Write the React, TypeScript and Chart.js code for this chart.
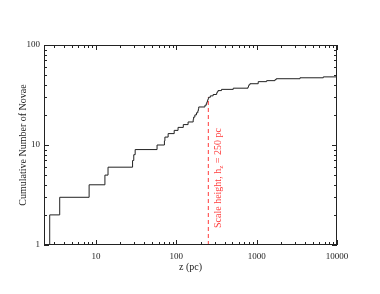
import React, { useEffect, useRef } from "react";
import { Chart, registerables } from "chart.js";

Chart.register(...registerables);

// Cumulative step data: distance z (pc) and cumulative count of novae
const zValues: number[] = [
  2.25, 2.65, 3.53, 8.2, 12.9, 14.1, 28.5, 29.5, 30.7, 57.5, 71, 72, 79, 94, 105, 122, 140, 162, 164, 170,
  178, 185, 188, 190, 227, 236, 240, 244, 248, 252, 265, 287, 317, 322, 330, 365, 511, 780, 790, 800,
  824, 1045, 1330, 1690, 1750, 3460, 6750, 10000,
];
const counts: number[] = [
  1, 2, 3, 4, 5, 6, 7, 8, 9, 10, 11, 12, 13, 14, 15, 16, 17, 18, 19, 20,
  21, 22, 23, 24, 25, 26, 27, 28, 29, 30, 31, 32, 33, 34, 35, 36, 37, 38, 39, 40,
  41, 43, 44, 45, 46, 47, 48, 48,
];
const scaleHeight = 250;
const scaleHeightCount = [1, 30];
const xTickLabels = ["10", "100", "1000", "10000"];
const yTickLabels = ["1", "10", "100"];

const FONT = "'Liberation Serif', 'DejaVu Serif', serif";
const INK = "#222";
const RED = "rgb(255,60,60)";

const isPow10 = (v: number) => Math.abs(Math.log10(v) - Math.round(Math.log10(v))) < 1e-9;

const framePlugin = {
  id: "frame",
  afterDatasetsDraw(chart: any) {
    const { ctx, chartArea } = chart;
    const { left, right, top, bottom } = chartArea;
    const xs = chart.scales.x;
    const ys = chart.scales.y;
    ctx.save();
    ctx.strokeStyle = INK;
    ctx.lineWidth = 1;
    ctx.strokeRect(left + 0.5, top + 0.5, right - left - 1, bottom - top - 1);
    const drawTicks = (scale: any, horizontal: boolean) => {
      const min = scale.min;
      const max = scale.max;
      const e0 = Math.floor(Math.log10(min));
      const e1 = Math.ceil(Math.log10(max));
      for (let e = e0; e <= e1; e++) {
        for (let k = 1; k <= 9; k++) {
          const v = k * Math.pow(10, e);
          if (v < min * 0.9999 || v > max * 1.0001) continue;
          const len = k === 1 ? 5 : 3;
          const p = Math.round(scale.getPixelForValue(v)) + 0.5;
          ctx.beginPath();
          if (horizontal) {
            ctx.moveTo(p, bottom);
            ctx.lineTo(p, bottom - len);
            ctx.moveTo(p, top);
            ctx.lineTo(p, top + len);
          } else {
            ctx.moveTo(left, p);
            ctx.lineTo(left + len, p);
            ctx.moveTo(right, p);
            ctx.lineTo(right - len, p);
          }
          ctx.stroke();
        }
      }
    };
    drawTicks(xs, true);
    drawTicks(ys, false);

    // annotation text
    const x = xs.getPixelForValue(scaleHeight) + 10;
    const y0 = bottom - 17;
    ctx.translate(x, y0);
    ctx.rotate(-Math.PI / 2);
    ctx.fillStyle = RED;
    ctx.textBaseline = "middle";
    ctx.textAlign = "left";
    ctx.font = `10px ${FONT}`;
    let cx = 0;
    const s1 = "Scale height, h";
    ctx.fillText(s1, cx, 0);
    cx += ctx.measureText(s1).width;
    ctx.font = `7px ${FONT}`;
    ctx.fillText("z", cx, 3);
    cx += ctx.measureText("z").width;
    ctx.font = `10px ${FONT}`;
    ctx.fillText(" = 250 pc", cx, 0);
    ctx.restore();
  },
};

export default function App() {
  const ref = useRef<HTMLCanvasElement | null>(null);
  useEffect(() => {
    document.body.style.margin = "0";
    const canvas = ref.current!;
    const chart = new Chart(canvas, {
      type: "line",
      data: {
        datasets: [
          {
            data: zValues.map((z, i) => ({ x: z, y: counts[i] })),
            borderColor: INK,
            borderWidth: 1,
            pointRadius: 0,
            stepped: "before",
            fill: false,
          },
          {
            data: scaleHeightCount.map((c) => ({ x: scaleHeight, y: c })),
            borderColor: RED,
            borderWidth: 1,
            borderDash: [4, 3],
            pointRadius: 0,
            fill: false,
          },
        ],
      },
      options: {
        animation: false,
        responsive: false,
        maintainAspectRatio: false,
        layout: { padding: { left: 0, top: 45, right: 43, bottom: 0 } },
        plugins: { legend: { display: false }, tooltip: { enabled: false } },
        scales: {
          x: {
            type: "logarithmic",
            min: 2.25,
            max: 10000,
            grid: { display: false, drawTicks: false },
            border: { display: false },
            afterFit: (s: any) => {
              s.height = 49;
            },
            ticks: {
              autoSkip: false,
              maxRotation: 0,
              padding: 6,
              color: INK,
              font: { family: FONT, size: 9 },
              callback: (v: any) => {
                const val = Number(v);
                if (!isPow10(val)) return "";
                const s = String(Math.round(val));
                return xTickLabels.includes(s) ? s : "";
              },
            },
            title: {
              display: true,
              text: "z (pc)",
              color: INK,
              font: { family: FONT, size: 10 },
              padding: { top: 0, bottom: 21 },
            },
          },
          y: {
            type: "logarithmic",
            min: 1,
            max: 100,
            grid: { display: false, drawTicks: false },
            border: { display: false },
            afterFit: (s: any) => {
              s.width = 44;
            },
            ticks: {
              autoSkip: false,
              padding: 4,
              color: INK,
              font: { family: FONT, size: 9 },
              callback: (v: any) => {
                const val = Number(v);
                if (!isPow10(val)) return "";
                const s = String(Math.round(val));
                return yTickLabels.includes(s) ? s : "";
              },
            },
            title: {
              display: true,
              text: "Cumulative Number of Novae",
              color: INK,
              font: { family: FONT, size: 10 },
              padding: { top: 17, bottom: 0 },
            },
          },
        },
      },
      plugins: [framePlugin],
    });
    return () => chart.destroy();
  }, []);
  return (
    <div style={{ width: 380, height: 294 }}>
      <canvas ref={ref} width={380} height={294} style={{ display: "block" }} />
    </div>
  );
}
